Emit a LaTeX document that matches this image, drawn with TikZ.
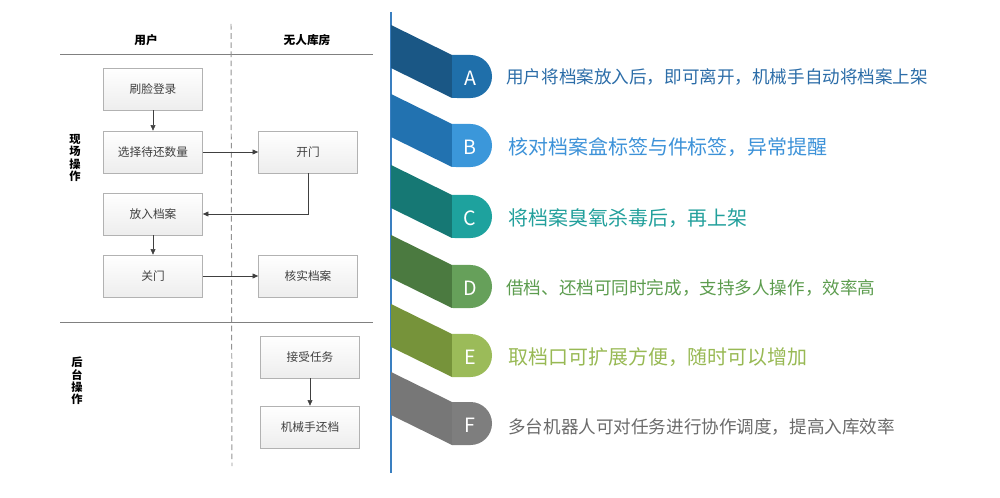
\documentclass[tikz,border=0pt]{standalone}
\usepackage{fontspec}
\setmainfont{Noto Sans CJK SC}
\usepackage{xcolor}
\usepackage{tikz}
\usetikzlibrary{arrows.meta,shadows}

\definecolor{bandA}{HTML}{1A5785}
\definecolor{tabA}{HTML}{1F6FAA}
\definecolor{txtA}{HTML}{2C6DA8}
\definecolor{bandB}{HTML}{2272B0}
\definecolor{tabB}{HTML}{3B97DA}
\definecolor{txtB}{HTML}{3D92D8}
\definecolor{bandC}{HTML}{167874}
\definecolor{tabC}{HTML}{1EA29E}
\definecolor{txtC}{HTML}{23A09C}
\definecolor{bandD}{HTML}{4B7A40}
\definecolor{tabD}{HTML}{66A05A}
\definecolor{txtD}{HTML}{5C9C4E}
\definecolor{bandE}{HTML}{76933A}
\definecolor{tabE}{HTML}{9BBB59}
\definecolor{txtE}{HTML}{98B954}
\definecolor{bandF}{HTML}{777777}
\definecolor{tabF}{HTML}{7E7E7E}
\definecolor{txtF}{HTML}{6A6A6A}
\definecolor{axisblue}{HTML}{3A7FC0}

\begin{document}
\begin{tikzpicture}[x=0.025cm,y=-0.025cm,
  box/.style={draw=gray!60, top color=white, bottom color=gray!14,
    drop shadow={shadow xshift=0.6pt,shadow yshift=-0.6pt,opacity=0.25},
    minimum width=2.475cm, minimum height=1.05cm, inner sep=0pt,
    font=\fontsize{8.3}{10}\selectfont, text=black!75},
  flow/.style={draw=black!75, -{Triangle[length=4pt,width=3.5pt]}},
  head/.style={font=\fontsize{8.3}{10}\selectfont\bfseries},
  side/.style={font=\fontsize{8}{8.7}\selectfont\bfseries, align=center},
  letter/.style={text=white, font=\fontsize{14}{14}\selectfont},
  small/.style={anchor=west, inner sep=0pt, font=\fontsize{12.5}{14}\selectfont},
  large/.style={anchor=west, inner sep=0pt, font=\fontsize{14.2}{16}\selectfont}]
\useasboundingbox (0,0) rectangle (1000,498);

% Swimlanes
\draw[gray, line width=0.7pt] (60,54) -- (373,54);
\draw[gray, line width=0.7pt] (60,322) -- (373,322);
\draw[gray!85, line width=0.7pt, dash pattern=on 4pt off 2.5pt] (231,24) -- (232,466);
\node[head] (user) at (146,40) {用户};
\node[head] (room) at (307,40) {无人库房};
\node[side] (onsite) at (75,158) {现\\场\\操\\作};
\node[side] (backend) at (77,381) {后\\台\\操\\作};

% Flow boxes
\node[box] (login) at (153,89) {刷脸登录};
\node[box] (count) at (153,152) {选择待还数量};
\node[box] (open) at (308,152) {开门};
\node[box] (put) at (153,214) {放入档案};
\node[box] (close) at (153,276) {关门};
\node[box] (check) at (308,276) {核实档案};
\node[box] (task) at (310,357) {接受任务};
\node[box] (robot) at (310,427) {机械手还档};

\draw[flow] (login) -- (count);
\draw[flow] (count) -- (open);
\draw[flow] (open.south) |- (put.east);
\draw[flow] (put) -- (close);
\draw[flow] (close) -- (check);
\draw[flow] (task) -- (robot);

% Ribbon list
\draw[axisblue, line width=1pt] (391,12) -- (391,473);

\fill[bandA] (391,25) -- (452,55) -- (452,98) -- (391,68) -- cycle;
\fill[tabA] (452,55) -- (470.5,55) arc[start angle=90,end angle=-90,radius=5.375mm] -- (452,98) -- cycle;
\node[letter] (keyA) at (470,78) {A};
\node[small, text=txtA] (noteA) at (506,77) {用户将档案放入后，即可离开，机械手自动将档案上架};

\fill[bandB] (391,94) -- (452,124) -- (452,167) -- (391,137) -- cycle;
\fill[tabB] (452,124) -- (470.5,124) arc[start angle=90,end angle=-90,radius=5.375mm] -- (452,167) -- cycle;
\node[letter] (keyB) at (470,147) {B};
\node[large, text=txtB] (noteB) at (508,147) {核对档案盒标签与件标签，异常提醒};

\fill[bandC] (391,165) -- (452,195) -- (452,238) -- (391,208) -- cycle;
\fill[tabC] (452,195) -- (470.5,195) arc[start angle=90,end angle=-90,radius=5.375mm] -- (452,238) -- cycle;
\node[letter] (keyC) at (470,218) {C};
\node[large, text=txtC] (noteC) at (508,218) {将档案臭氧杀毒后，再上架};

\fill[bandD] (391,235) -- (452,265) -- (452,308) -- (391,278) -- cycle;
\fill[tabD] (452,265) -- (470.5,265) arc[start angle=90,end angle=-90,radius=5.375mm] -- (452,308) -- cycle;
\node[letter] (keyD) at (470,288) {D};
\node[small, text=txtD] (noteD) at (506,288) {借档、还档可同时完成，支持多人操作，效率高};

\fill[bandE] (391,304) -- (452,334) -- (452,377) -- (391,347) -- cycle;
\fill[tabE] (452,334) -- (470.5,334) arc[start angle=90,end angle=-90,radius=5.375mm] -- (452,377) -- cycle;
\node[letter] (keyE) at (470,357) {E};
\node[large, text=txtE] (noteE) at (508,357) {取档口可扩展方便，随时可以增加};

\fill[bandF] (391,372) -- (452,402) -- (452,445) -- (391,415) -- cycle;
\fill[tabF] (452,402) -- (470.5,402) arc[start angle=90,end angle=-90,radius=5.375mm] -- (452,445) -- cycle;
\node[letter] (keyF) at (470,425) {F};
\node[small, text=txtF] (noteF) at (508,427) {多台机器人可对任务进行协作调度，提高入库效率};
\end{tikzpicture}
\end{document}
